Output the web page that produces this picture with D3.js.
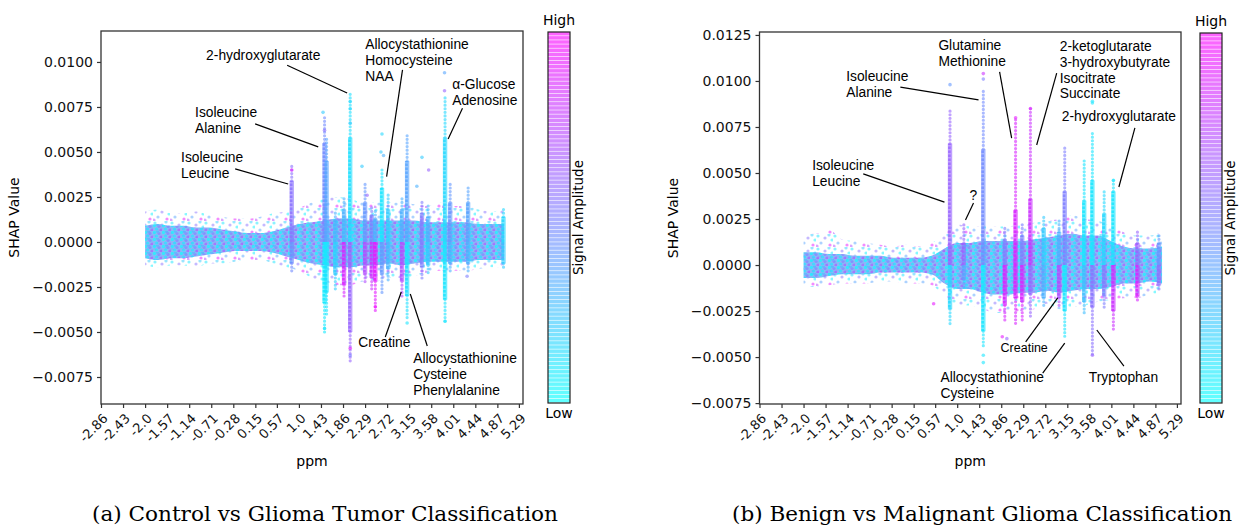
<!DOCTYPE html>
<html>
<head>
<meta charset="utf-8">
<script src="https://cdn.jsdelivr.net/npm/d3@7"></script>
<style>
  body { margin: 0; background: #fff; }
  svg { display: block; }
</style>
</head>
<body>
<div id="chart"></div>
<script>
// ---------- data ----------
const xTickLabels = ["-2.86","-2.43","-2.0","-1.57","-1.14","-0.71","-0.28","0.15","0.57","1.0",
                     "1.43","1.86","2.29","2.72","3.15","3.58","4.01","4.44","4.87","5.29"]
const yTicksA = [-0.0075, -0.005, -0.0025, 0, 0.0025, 0.005, 0.0075, 0.01]
const yTicksB = [-0.0075, -0.005, -0.0025, 0, 0.0025, 0.005, 0.0075, 0.01, 0.0125]

// baseline band (ppm samples shared by both panels)
const bandPpm = [-2.0,-1.75,-1.5,-1.25,-1.0,-0.75,-0.5,-0.25,0.0,0.25,0.5,0.75,1.0,1.25,1.5,
                 1.75,2.0,2.25,2.5,2.75,3.0,3.25,3.5,3.75,4.0,4.25,4.5,4.75,5.0]

// (a) control vs glioma
const coreHiA = [0.0009,0.0010,0.0009,0.0009,0.0008,0.0008,0.0007,0.0006,0.0005,0.0005,0.0006,0.0008,0.0010,0.0011,0.0012,
                 0.0013,0.0013,0.0012,0.0012,0.0012,0.0012,0.0012,0.0011,0.0011,0.0011,0.0011,0.0010,0.0010,0.0010]
const coreLoA = [-0.0009,-0.0010,-0.0009,-0.0009,-0.0008,-0.0007,-0.0006,-0.0005,-0.0005,-0.0005,-0.0006,-0.0008,-0.0010,-0.0012,-0.0013,
                 -0.0014,-0.0014,-0.0013,-0.0013,-0.0012,-0.0013,-0.0012,-0.0011,-0.0011,-0.0011,-0.0011,-0.0010,-0.0010,-0.0010]
const sparseHiA = [0.0017,0.0018,0.0016,0.0016,0.0017,0.0015,0.0014,0.0013,0.0013,0.0014,0.0016,0.0017,0.0019,0.0022,0.0024,
                   0.0025,0.0024,0.0022,0.0022,0.0022,0.0022,0.0021,0.0020,0.0022,0.0020,0.0020,0.0018,0.0017,0.0018]
const sparseLoA = [-0.0013,-0.0014,-0.0013,-0.0013,-0.0014,-0.0012,-0.0012,-0.0011,-0.0010,-0.0010,-0.0012,-0.0014,-0.0016,-0.0020,-0.0022,
                   -0.0024,-0.0024,-0.0022,-0.0022,-0.0020,-0.0020,-0.0019,-0.0017,-0.0016,-0.0016,-0.0016,-0.0015,-0.0014,-0.0014]

const spikePpmA     = [0.86,1.50,1.54,1.71,1.88,2.00,2.29,2.42,2.49,2.62,2.74,3.01,3.11,3.40,3.52,3.85,3.95,4.30,4.99]
const spikeTailTopA = [0.0042,0.0070,0.0058,0.0017,0.0025,0.0082,0.0033,0.0020,0.0018,0.0040,0.0026,0.0025,0.0060,0.0023,0.0020,0.0081,0.0032,0.0030,0.0019]
const spikeCoreTopA = [0.0034,0.0055,0.0045,0.0012,0.0018,0.0058,0.0022,0.0015,0.0013,0.0030,0.0018,0.0018,0.0045,0.0016,0.0014,0.0058,0.0022,0.0022,0.0014]
const spikeCoreBotA = [-0.0012,-0.0034,-0.0028,-0.0018,-0.0024,-0.0050,-0.0018,-0.0020,-0.0022,-0.0018,-0.0015,-0.0022,-0.0030,-0.0014,-0.0013,-0.0032,-0.0012,-0.0012,-0.0012]
const spikeTailBotA = [-0.0017,-0.0051,-0.0040,-0.0026,-0.0030,-0.0067,-0.0023,-0.0027,-0.0038,-0.0029,-0.0022,-0.0030,-0.0042,-0.0020,-0.0018,-0.0045,-0.0016,-0.0016,-0.0015]
const spikeToneUpA  = [0.55,0.45,0.35,0.3,0.3,0.12,0.4,0.5,0.3,0.1,0.2,0.3,0.35,0.5,0.3,0.15,0.4,0.35,0.15]
const spikeToneDnA  = [0.45,0.08,0.1,0.2,0.85,0.6,0.7,0.8,0.9,0.4,0.3,0.7,0.12,0.5,0.2,0.1,0.3,0.3,0.2]

const outPpmA  = [1.47,1.50,2.00,2.00,2.00,2.23,2.62,2.60,2.65,3.40,3.53,3.84,3.84,2.00,2.00,1.50,2.49,3.11,3.85,0.86,2.33,3.30,4.28]
const outValA  = [0.0072,0.0062,0.0078,0.0074,0.0066,0.0042,0.0060,0.0050,0.0048,0.0047,0.0040,0.0094,0.0084,
                  -0.0063,-0.0059,-0.0048,-0.0036,-0.0045,-0.0044,0.0040,0.0026,0.0031,-0.0019]
const outToneA = [0.2,0.55,0.15,0.15,0.2,0.2,0.15,0.2,0.3,0.2,0.6,0.35,0.6,0.5,0.9,0.1,0.95,0.1,0.1,0.9,0.6,0.3,0.5]

// (b) benign vs malignant
const coreHiB = [0.0007,0.0007,0.0006,0.0006,0.0005,0.0005,0.0005,0.0004,0.0004,0.0004,0.0005,0.0009,0.0012,0.0012,0.0013,
                 0.0013,0.0013,0.0013,0.0014,0.0015,0.0016,0.0017,0.0016,0.0016,0.0013,0.0010,0.0009,0.0009,0.0010]
const coreLoB = [-0.0007,-0.0007,-0.0006,-0.0005,-0.0005,-0.0005,-0.0004,-0.0004,-0.0004,-0.0004,-0.0005,-0.0010,-0.0013,-0.0013,-0.0015,
                 -0.0016,-0.0016,-0.0015,-0.0015,-0.0014,-0.0015,-0.0014,-0.0013,-0.0013,-0.0012,-0.0010,-0.0010,-0.0009,-0.0010]
const sparseHiB = [0.0018,0.0017,0.0019,0.0014,0.0013,0.0012,0.0011,0.0010,0.0011,0.0010,0.0012,0.0017,0.0022,0.0021,0.0021,
                   0.0021,0.0021,0.0022,0.0023,0.0024,0.0025,0.0027,0.0025,0.0024,0.0021,0.0018,0.0016,0.0016,0.0018]
const sparseLoB = [-0.0011,-0.0012,-0.0011,-0.0010,-0.0010,-0.0010,-0.0009,-0.0009,-0.0010,-0.0010,-0.0011,-0.0017,-0.0022,-0.0022,-0.0024,
                   -0.0026,-0.0026,-0.0025,-0.0024,-0.0021,-0.0024,-0.0023,-0.0022,-0.0020,-0.0019,-0.0018,-0.0018,-0.0016,-0.0015]

const spikePpmB     = [0.86,1.13,1.51,1.93,2.14,2.27,2.43,2.69,2.99,3.10,3.48,3.64,3.87,4.05,4.52,4.94]
const spikeTailTopB = [0.0085,0.0023,0.0095,0.0020,0.0080,0.0022,0.0085,0.0026,0.0025,0.0065,0.0058,0.0073,0.0040,0.0046,0.0018,0.0017]
const spikeCoreTopB = [0.0066,0.0012,0.0063,0.0014,0.0030,0.0016,0.0036,0.0020,0.0018,0.0040,0.0035,0.0046,0.0028,0.0040,0.0012,0.0012]
const spikeCoreBotB = [-0.0024,-0.0008,-0.0036,-0.0022,-0.0018,-0.0020,-0.0016,-0.0018,-0.0018,-0.0025,-0.0020,-0.0023,-0.0017,-0.0025,-0.0017,-0.0011]
const spikeTailBotB = [-0.0032,-0.0012,-0.0044,-0.0030,-0.0032,-0.0030,-0.0028,-0.0022,-0.0022,-0.0040,-0.0026,-0.0049,-0.0024,-0.0036,-0.0020,-0.0014]
const spikeToneUpB  = [0.6,0.6,0.45,0.5,0.85,0.5,0.8,0.2,0.3,0.5,0.1,0.1,0.15,0.1,0.6,0.4]
const spikeToneDnB  = [0.15,0.4,0.1,0.85,0.85,0.85,0.6,0.3,0.7,0.1,0.25,0.55,0.5,0.8,0.85,0.55]

const outPpmB  = [0.86,1.51,1.51,1.51,1.51,3.64,3.64,1.88,1.97,0.54,2.43,2.14,3.64,4.05]
const outValB  = [0.0098,0.0104,0.0101,-0.0049,-0.0053,0.0089,0.0088,-0.0039,-0.0040,-0.0021,0.0085,0.0080,-0.0049,0.0046]
const outToneB = [0.4,0.8,0.5,0.1,0.1,0.1,0.1,0.9,0.6,0.9,0.85,0.9,0.6,0.1]

// annotations: text anchor and leader line, all in data coordinates (ppm, SHAP)
const notesA = [
  { lines: ["2-hydroxyglutarate"], tx: -0.81, ty: 0.01011, ax: 0.77, ay: 0.00982, bx: 1.94, by: 0.00828 },
  { lines: ["Isoleucine", "Alanine"], tx: -1.025, ty: 0.00694, ax: 0.146, ay: 0.00656, bx: 1.376, by: 0.00528 },
  { lines: ["Isoleucine", "Leucine"], tx: -1.298, ty: 0.00444, ax: -0.244, ay: 0.00406, bx: 0.79, by: 0.00322 },
  { lines: ["Allocystathionine", "Homocysteine", "NAA"], tx: 2.293, ty: 0.01072, ax: 3.02, ay: 0.00956, bx: 2.71, by: 0.00363 },
  { lines: ["\u03b1-Glucose", "Adenosine"], tx: 3.99, ty: 0.00850, ax: 4.19, ay: 0.00743, bx: 3.91, by: 0.00572 },
  { lines: ["Creatine"], tx: 2.157, ty: -0.00583, ax: 2.684, ay: -0.00528, bx: 2.996, by: -0.00278 },
  { lines: ["Allocystathionine", "Cysteine", "Phenylalanine"], tx: 3.23, ty: -0.00672, ax: 3.503, ay: -0.00578, bx: 3.172, by: -0.00289 }
]
const notesB = [
  { lines: ["Glutamine", "Methionine"], tx: 0.633, ty: 0.01168, ax: 1.828, ay: 0.01049, bx: 2.063, by: 0.0069 },
  { lines: ["Isoleucine", "Alanine"], tx: -1.167, ty: 0.0100, ax: -0.11, ay: 0.00967, bx: 1.417, by: 0.00897 },
  { lines: ["2-ketoglutarate", "3-hydroxybutyrate", "Isocitrate", "Succinate"], tx: 3.002, ty: 0.01163, ax: 2.943, ay: 0.01043, bx: 2.552, by: 0.00652 },
  { lines: ["2-hydroxyglutarate"], tx: 3.041, ty: 0.00783, ax: 4.47, ay: 0.00745, bx: 4.157, by: 0.00424 },
  { lines: ["Isoleucine", "Leucine"], tx: -1.832, ty: 0.00516, ax: -0.834, ay: 0.00495, bx: 0.751, by: 0.00342 },
  { lines: ["?"], tx: 1.24, ty: 0.00353, ax: 1.319, ay: 0.00337, bx: 1.162, by: 0.00245 },
  { lines: ["Creatine"], tx: 1.847, ty: -0.00473, ax: 2.337, ay: -0.00418, bx: 2.963, by: -0.00179, small: true },
  { lines: ["Allocystathionine", "Cysteine"], tx: 0.673, ty: -0.00636, ax: 2.67, ay: -0.00587, bx: 3.1, by: -0.00424 },
  { lines: ["Tryptophan"], tx: 3.57, ty: -0.00636, ax: 4.255, ay: -0.00549, bx: 3.726, by: -0.00353 }
]

const captionA = "(a) Control vs Glioma Tumor Classification"
const captionB = "(b) Benign vs Malignant Glioma Classification"

// ---------- drawing ----------
const width = 1241
const height = 525
const cool = d3.interpolateRgb("#00ffff", "#ff00ff") // matplotlib "cool"

const svg = d3.select("#chart").append("svg")
    .attr("width", width)
    .attr("height", height)

const defs = svg.append("defs")

// dotted textures for the baseline band
const densePat = defs.append("pattern")
    .attr("id", "dense").attr("patternUnits", "userSpaceOnUse")
    .attr("width", 9).attr("height", 7)
densePat.append("rect").attr("width", 9).attr("height", 7).attr("fill", "#7fb2f7")
;[[1.5, 1.5, 0.05], [6, 2.5, 0.5], [3.5, 5, 0.12], [8, 6, 0.65], [4.5, 0.5, 0.3]].forEach(([cx, cy, t]) => {
    densePat.append("circle").attr("cx", cx).attr("cy", cy).attr("r", 1.6)
        .attr("fill", cool(t)).attr("opacity", 0.8)
})

const sparsePat = defs.append("pattern")
    .attr("id", "sparse").attr("patternUnits", "userSpaceOnUse")
    .attr("width", 17).attr("height", 13)
;[[2, 2, 0.1], [9, 4, 0.55], [5, 9, 0.35], [14, 11, 0.9], [13, 1, 0.2], [1, 12, 0.7], [16, 6, 0.05]].forEach(([cx, cy, t]) => {
    sparsePat.append("circle").attr("cx", cx).attr("cy", cy).attr("r", 1.6)
        .attr("fill", cool(t)).attr("opacity", 0.5)
})

const drawPanel = (p) => {
    const x = d3.scaleLinear().domain([-2.86, 5.37]).range([p.left, p.right])
    const y = d3.scaleLinear().domain(p.yDomain).range([p.bottom, p.top])

    const g = svg.append("g")
    defs.append("clipPath").attr("id", "clip-" + p.id)
        .append("rect")
        .attr("x", p.left).attr("y", p.top)
        .attr("width", p.right - p.left).attr("height", p.bottom - p.top)

    const plot = g.append("g").attr("clip-path", `url(#clip-${p.id})`)

    // sparse scatter envelope
    const sparseArea = d3.area()
        .x((d, i) => x(bandPpm[i]))
        .y0((d, i) => y(p.sparseLo[i]))
        .y1((d, i) => y(p.sparseHi[i]))
        .curve(d3.curveMonotoneX)
    plot.append("path").datum(bandPpm)
        .attr("d", sparseArea)
        .attr("fill", "url(#sparse)")

    // dense core of the band
    const coreArea = d3.area()
        .x((d, i) => x(bandPpm[i]))
        .y0((d, i) => y(p.coreLo[i]))
        .y1((d, i) => y(p.coreHi[i]))
        .curve(d3.curveMonotoneX)
    plot.append("path").datum(bandPpm)
        .attr("d", coreArea)
        .attr("fill", "url(#dense)")
        .attr("opacity", 0.92)

    // spikes: dotted tails then dense cores, split at zero
    const spikes = p.spikePpm.map((ppm, i) => ({
        ppm,
        tailTop: p.tailTop[i], coreTop: p.coreTop[i],
        coreBot: p.coreBot[i], tailBot: p.tailBot[i],
        up: p.toneUp[i], dn: p.toneDn[i]
    }))

    const sp = plot.selectAll(".spike").data(spikes).enter().append("g")

    const tail = (sel, from, to, tone) => sel.append("line")
        .attr("x1", d => x(d.ppm)).attr("x2", d => x(d.ppm))
        .attr("y1", d => y(d[from])).attr("y2", d => y(d[to]))
        .attr("stroke", d => cool(d[tone]))
        .attr("stroke-width", 3.2).attr("stroke-linecap", "round")
        .attr("stroke-dasharray", "0 3.6").attr("opacity", 0.6)
    tail(sp, "coreTop", "tailTop", "up")
    tail(sp, "coreBot", "tailBot", "dn")

    const core = (sel, to, tone) => {
        sel.append("line")
            .attr("x1", d => x(d.ppm)).attr("x2", d => x(d.ppm))
            .attr("y1", y(0)).attr("y2", d => y(d[to]))
            .attr("stroke", d => cool(d[tone]))
            .attr("stroke-width", 4.4).attr("opacity", 0.62)
        sel.append("line")
            .attr("x1", d => x(d.ppm) - 0.6).attr("x2", d => x(d.ppm) - 0.6)
            .attr("y1", y(0)).attr("y2", d => y(d[to]))
            .attr("stroke", d => cool(d[tone]))
            .attr("stroke-width", 2.6).attr("stroke-dasharray", "2.5 1.5")
            .attr("opacity", 0.8)
    }
    core(sp, "coreTop", "up")
    core(sp, "coreBot", "dn")

    // isolated points
    plot.selectAll(".out")
        .data(p.outPpm.map((ppm, i) => ({ ppm, v: p.outVal[i], t: p.outTone[i] })))
        .enter().append("circle")
        .attr("cx", d => x(d.ppm)).attr("cy", d => y(d.v))
        .attr("r", 1.8)
        .attr("fill", d => cool(d.t))
        .attr("opacity", 0.6)

    // frame
    g.append("rect")
        .attr("x", p.left).attr("y", p.top)
        .attr("width", p.right - p.left).attr("height", p.bottom - p.top)
        .attr("fill", "none").attr("stroke", "#333").attr("stroke-width", 1.3)

    // axes
    const xAxis = g.append("g")
        .attr("transform", `translate(0,${p.bottom})`)
        .call(d3.axisBottom(x)
            .tickValues(xTickLabels.map(Number))
            .tickFormat((d, i) => xTickLabels[i])
            .tickSize(4).tickSizeOuter(0))
    xAxis.select(".domain").remove()
    xAxis.selectAll(".tick line").attr("stroke", "#333").attr("stroke-width", 1.2)
    xAxis.selectAll(".tick text")
        .attr("x", 0).attr("y", 0).attr("dy", "0.35em")
        .attr("transform", "translate(4,12) rotate(-45)")
        .style("text-anchor", "end")
        .style("font-family", "DejaVu Sans")
        .style("font-size", "13px")
        .attr("fill", "#111")

    const yAxis = g.append("g")
        .attr("transform", `translate(${p.left},0)`)
        .call(d3.axisLeft(y)
            .tickValues(p.yTicks)
            .tickFormat(d3.format(".4f"))
            .tickSize(4).tickSizeOuter(0))
    yAxis.select(".domain").remove()
    yAxis.selectAll(".tick line").attr("stroke", "#333").attr("stroke-width", 1.2)
    yAxis.selectAll(".tick text")
        .attr("x", -8)
        .style("font-family", "DejaVu Sans")
        .style("font-size", "14px")
        .attr("fill", "#111")

    g.append("text")
        .attr("x", (p.left + p.right) / 2).attr("y", 466)
        .attr("text-anchor", "middle")
        .style("font-family", "DejaVu Sans").style("font-size", "14px")
        .text("ppm")

    g.append("text")
        .attr("transform", `translate(${p.left - 82},${(p.top + p.bottom) / 2}) rotate(-90)`)
        .attr("text-anchor", "middle")
        .style("font-family", "DejaVu Sans").style("font-size", "14px")
        .text("SHAP Value")

    // annotations
    const notes = g.selectAll(".note").data(p.notes).enter().append("g")
    notes.append("line")
        .attr("x1", d => x(d.ax)).attr("y1", d => y(d.ay))
        .attr("x2", d => x(d.bx)).attr("y2", d => y(d.by))
        .attr("stroke", "#000").attr("stroke-width", 1.2)
    const nt = notes.append("text")
        .attr("x", d => x(d.tx)).attr("y", d => y(d.ty))
        .style("font-family", "Liberation Sans, Arial, sans-serif")
        .style("font-size", d => d.small ? "12.5px" : "13.8px")
        .attr("fill", "#000")
    nt.selectAll("tspan").data(d => d.lines.map((l, i) => ({ l, i, x: x(d.tx) })))
        .enter().append("tspan")
        .attr("x", d => d.x)
        .attr("dy", d => d.i === 0 ? 0 : 15.8)
        .text(d => d.l)

    // colour bar
    const cb = d3.scaleLinear().domain([0, 1]).range([p.bottom - 1, p.top + 1])
    const steps = d3.range(0, 1, 1 / 90)
    g.selectAll(".cb").data(steps).enter().append("rect")
        .attr("x", p.cbLeft).attr("width", 22)
        .attr("y", d => cb(d + 1 / 90))
        .attr("height", (cb(0) - cb(1)) / 90 - 0.6)
        .attr("fill", d => cool(d))
        .attr("opacity", 0.62)
    g.append("rect")
        .attr("x", p.cbLeft).attr("y", p.top + 1)
        .attr("width", 22).attr("height", p.bottom - p.top - 2)
        .attr("fill", "none").attr("stroke", "#222").attr("stroke-width", 1.2)
    g.append("text")
        .attr("x", p.cbLeft + 11).attr("y", p.top - 6)
        .attr("text-anchor", "middle")
        .style("font-family", "DejaVu Sans").style("font-size", "14px")
        .text("High")
    g.append("text")
        .attr("x", p.cbLeft + 11).attr("y", p.bottom + 14)
        .attr("text-anchor", "middle")
        .style("font-family", "DejaVu Sans").style("font-size", "14px")
        .text("Low")
    g.append("text")
        .attr("transform", `translate(${p.cbLeft + 35},${(p.top + p.bottom) / 2}) rotate(-90)`)
        .attr("text-anchor", "middle")
        .style("font-family", "DejaVu Sans").style("font-size", "13.5px")
        .text("Signal Amplitude")

    // caption
    g.append("text")
        .attr("x", p.captionX).attr("y", 521)
        .attr("text-anchor", "middle")
        .attr("textLength", p.captionLen).attr("lengthAdjust", "spacingAndGlyphs")
        .style("font-family", "DejaVu Serif").style("font-size", "20px")
        .text(p.caption)
}

drawPanel({
    id: "a", left: 101, right: 523, top: 31, bottom: 404,
    yDomain: [-0.009, 0.01172], yTicks: yTicksA,
    coreHi: coreHiA, coreLo: coreLoA, sparseHi: sparseHiA, sparseLo: sparseLoA,
    spikePpm: spikePpmA, tailTop: spikeTailTopA, coreTop: spikeCoreTopA,
    coreBot: spikeCoreBotA, tailBot: spikeTailBotA, toneUp: spikeToneUpA, toneDn: spikeToneDnA,
    outPpm: outPpmA, outVal: outValA, outTone: outToneA,
    notes: notesA, cbLeft: 548,
    caption: captionA, captionX: 325, captionLen: 466
})

drawPanel({
    id: "b", left: 759.5, right: 1181, top: 32, bottom: 404,
    yDomain: [-0.00755, 0.01266], yTicks: yTicksB,
    coreHi: coreHiB, coreLo: coreLoB, sparseHi: sparseHiB, sparseLo: sparseLoB,
    spikePpm: spikePpmB, tailTop: spikeTailTopB, coreTop: spikeCoreTopB,
    coreBot: spikeCoreBotB, tailBot: spikeTailBotB, toneUp: spikeToneUpB, toneDn: spikeToneDnB,
    outPpm: outPpmB, outVal: outValB, outTone: outToneB,
    notes: notesB, cbLeft: 1200,
    caption: captionB, captionX: 982, captionLen: 500
})
</script>
</body>
</html>
